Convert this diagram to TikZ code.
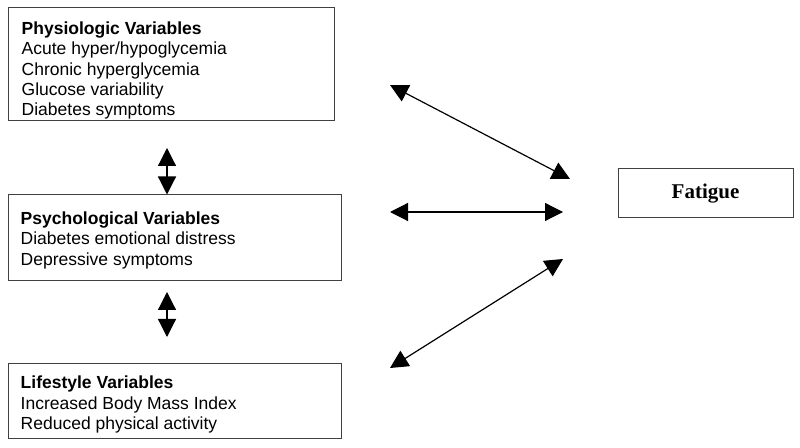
\documentclass[tikz,border=0pt]{standalone}
\usepackage{fontspec}
\setmainfont{Liberation Sans}
\newfontfamily\timesfont{Liberation Serif}
\usetikzlibrary{arrows.meta, positioning}

\tikzset{
    varbox/.style={draw=black!75, line width=1pt, rectangle, inner sep=0pt},
    vartext/.style={align=left, inner sep=0pt, font=\fontsize{17.5}{20.4}\selectfont},
    biarrow/.style={line width=1.2pt, {Triangle[length=18pt,width=18pt]}-{Triangle[length=18pt,width=18pt]}}
}

\begin{document}
\begin{tikzpicture}[x=1pt, y=1pt]
    \useasboundingbox (0,0) rectangle (800,447);

    % Variable boxes
    \node[varbox, minimum width=326pt, minimum height=113pt] (physio) at (171, 382.5) {};
    \node[varbox, minimum width=333pt, minimum height=86pt] (psych) at (174.5, 209) {};
    \node[varbox, minimum width=333pt, minimum height=74pt] (life) at (174.5, 46) {};

    \node[vartext, below right=14pt and 14pt of physio.north west] (physio-text)
        {\textbf{Physiologic Variables}\\Acute hyper/hypoglycemia\\Chronic hyperglycemia\\Glucose variability\\Diabetes symptoms};
    \node[vartext, below right=17pt and 13pt of psych.north west] (psych-text)
        {\textbf{Psychological Variables}\\Diabetes emotional distress\\Depressive symptoms};
    \node[vartext, below right=12.5pt and 13pt of life.north west] (life-text)
        {\textbf{Lifestyle Variables}\\Increased Body Mass Index\\Reduced physical activity};

    % Outcome
    \node[varbox, minimum width=175pt, minimum height=49pt,
          font=\timesfont\bfseries\fontsize{21}{24}\selectfont] (fatigue) at (705.5, 253.5) {Fatigue};

    % Arrow ends
    \coordinate (physio-top) at (167, 299);
    \coordinate (psych-low) at (167, 155);
    \coordinate (life-up) at (167, 110);
    \coordinate (physio-out) at (390, 362);
    \coordinate (psych-out) at (390, 235);
    \coordinate (life-out) at (390, 79);
    \coordinate (fatigue-a) at (570, 268);
    \coordinate (fatigue-b) at (563, 235);
    \coordinate (fatigue-c) at (563, 188);

    % Arrows between variables
    \draw[biarrow] (physio-top) -- (physio-top |- psych.north);
    \draw[biarrow] (psych-low) -- (life-up);

    % Arrows to fatigue
    \draw[biarrow] (physio-out) -- (fatigue-a);
    \draw[biarrow] (psych-out) -- (fatigue-b);
    \draw[biarrow] (life-out) -- (fatigue-c);
\end{tikzpicture}
\end{document}
